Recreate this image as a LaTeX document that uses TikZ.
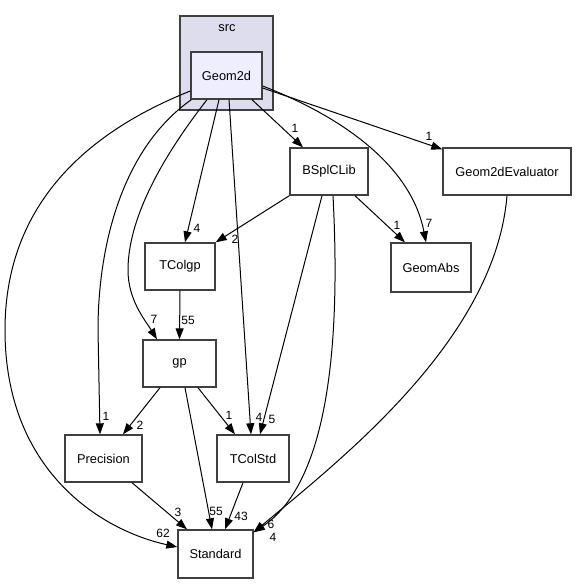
\documentclass[tikz,border=0pt]{standalone}
\usepackage{fontspec}
\setmainfont{Liberation Sans}
\usetikzlibrary{arrows.meta}

\definecolor{clusterfill}{HTML}{DDDDEE}
\definecolor{dirfill}{HTML}{EEEEFF}
\definecolor{boxline}{HTML}{404040}

\begin{document}
\begin{tikzpicture}[x=1pt, y=-1pt,
	box/.style={draw=boxline, line width=1.4pt, fill=white, minimum height=47pt, inner sep=0pt, font=\fontsize{12.8}{15}\selectfont},
	dep/.style={-{Triangle[length=11pt,width=8pt]}, line width=1pt},
	lbl/.style={inner sep=0pt, font=\fontsize{12}{14}\selectfont}]
	\useasboundingbox[fill=white] (0,0) rectangle (577,585); % Rand
	
	% Cluster src
	\draw[boxline, line width=1.4pt, fill=clusterfill] (180,16) rectangle (273,110);
	\node[font=\fontsize{12.8}{15}\selectfont] (srclbl) at (227,28) {src};
	
	% Verzeichnisse
	\node[box, fill=dirfill, minimum width=71pt] (gd) at (226.5,75.5) {Geom2d};
	\node[box, minimum width=78pt] (bsp) at (329,171.5) {BSplCLib};
	\node[box, minimum width=128pt] (ev) at (507,171.5) {Geom2dEvaluator};
	\node[box, minimum width=70pt] (tg) at (180,266.5) {TColgp};
	\node[box, minimum width=80pt, minimum height=49pt] (ga) at (431,267.5) {GeomAbs};
	\node[box, minimum width=73pt] (gp) at (179.5,363.5) {gp};
	\node[box, minimum width=77pt] (pr) at (103.5,458.5) {Precision};
	\node[box, minimum width=72pt] (ts) at (253,458.5) {TColStd};
	\node[box, minimum width=75pt, minimum height=48pt] (st) at (215.5,554) {Standard};
	
	% Abhaengigkeiten von Geom2d
	\draw[dep] ([yshift=-15.5]gd.west) .. controls (80,135) and (5,210) .. (5,330)
		.. controls (5,470) and (100,530) .. ([yshift=7]st.west);
	\draw[dep] ([xshift=1]gd.south west) .. controls (120,150) and (98,250) .. (98,330) -- ([xshift=-3.5]pr.north);
	\draw[dep] ([xshift=-19.5]gd.south) .. controls (160,160) and (128,220) .. (128,270)
		.. controls (128,300) and (145,320) .. ([xshift=-22.5]gp.north);
	\draw[dep] ([xshift=-7.5]gd.south) -- ([xshift=5]tg.north);
	\draw[dep] ([xshift=2.5]gd.south) -- ([xshift=-2]ts.north);
	\draw[dep] ([xshift=25.5]gd.south) -- ([xshift=-26]bsp.north);
	\draw[dep] ([yshift=-10.5]gd.east) .. controls (350,120) and (412,170) .. ([xshift=-5]ga.north);
	\draw[dep] ([yshift=-12.5]gd.east) -- ([yshift=-2]ev.north west);
	
	% Abhaengigkeiten von BSplCLib
	\draw[dep] (bsp.south west) -- (tg.north east);
	\draw[dep] ([xshift=-7]bsp.south) -- ([xshift=7]ts.north);
	\draw[dep] ([xshift=4]bsp.south) .. controls (340,330) and (332,480) .. ([yshift=-3]st.north east);
	\draw[dep] ([xshift=26]bsp.south) -- ([xshift=-26]ga.north);
	
	% Rest
	\draw[dep] (tg.south) -- (gp.north);
	\draw[dep] ([xshift=-19.5]gp.south) -- ([xshift=19.5]pr.north);
	\draw[dep] ([xshift=18.5]gp.south) -- ([xshift=-18]ts.north);
	\draw[dep] ([xshift=5.5]gp.south) -- ([xshift=-3.5]st.north);
	\draw[dep] ([xshift=28.5]pr.south) -- ([xshift=-28.5]st.north);
	\draw[dep] ([xshift=-10]ts.south) -- ([xshift=9.5]st.north);
	\draw[dep] (ev.south) .. controls (495,340) and (340,460) .. ([yshift=-3]st.north east);
	
	% Beschriftungen
	\node[lbl] (l62) at (163,533) {62};
	\node[lbl] (lprec) at (106,416) {1};
	\node[lbl] (lgp) at (154,319) {7};
	\node[lbl] (ltg) at (197,228) {4};
	\node[lbl] (lbsptg) at (235,239) {2};
	\node[lbl] (lts) at (259,417) {4};
	\node[lbl] (lbspts) at (272,419) {5};
	\node[lbl] (lbsp) at (295,128) {1};
	\node[lbl] (lga) at (429,223) {7};
	\node[lbl] (lev) at (429,136) {1};
	\node[lbl] (lbspga) at (397,225) {1};
	\node[lbl] (ltggp) at (188,320) {55};
	\node[lbl] (lgppr) at (140,425) {2};
	\node[lbl] (lgpts) at (229,415) {1};
	\node[lbl] (lgpst) at (216,511) {55};
	\node[lbl] (lprst) at (178,512) {3};
	\node[lbl] (ltsst) at (241,516) {43};
	\node[lbl] (lbspst) at (271,524) {6};
	\node[lbl] (levst) at (273,537) {4};
	
	%\draw[help lines, step=50] (0,0) grid (577,585);
\end{tikzpicture}
\end{document}
